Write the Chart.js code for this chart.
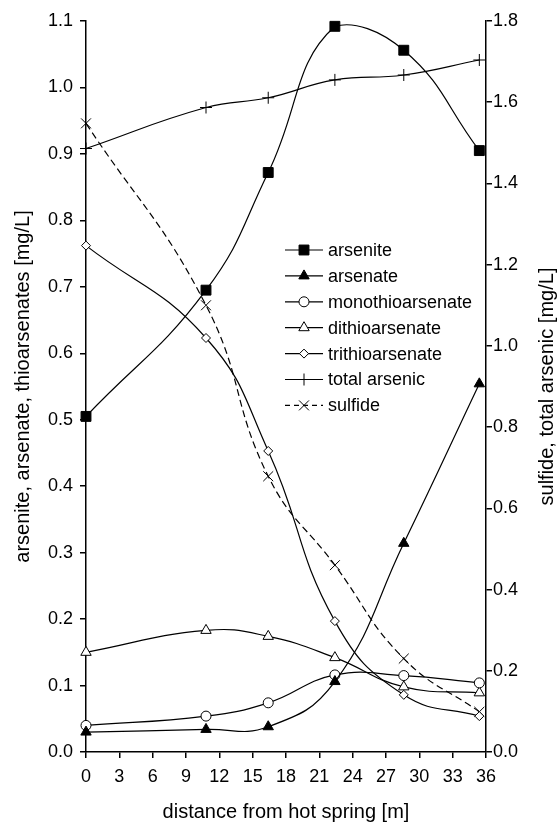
<!DOCTYPE html>
<html>
<head>
<meta charset="utf-8">
<script src="https://cdn.jsdelivr.net/npm/chart.js@4.4.1/dist/chart.umd.min.js"></script>
<style>
  html, body { margin: 0; padding: 0; background: #fff; }
  #wrap { width: 558px; height: 825px; }
</style>
</head>
<body>
<div id="wrap"><canvas id="speciesChart" width="558" height="825"></canvas></div>
<script>
// distance from hot spring [m]
const distance = [0, 10.8, 16.4, 22.4, 28.6, 35.4];

// left axis [mg/L]
const arsenite = [0.505, 0.695, 0.872, 1.092, 1.056, 0.905];
const arsenate = [0.030, 0.034, 0.038, 0.106, 0.314, 0.554];
const monothioarsenate = [0.040, 0.054, 0.074, 0.116, 0.115, 0.104];
const dithioarsenate = [0.150, 0.183, 0.174, 0.142, 0.098, 0.089];
const trithioarsenate = [0.762, 0.623, 0.453, 0.197, 0.086, 0.054];

// right axis [mg/L]
const totalArsenic = [1.486, 1.587, 1.611, 1.655, 1.667, 1.704];
const sulfide = [1.548, 1.100, 0.679, 0.460, 0.230, 0.099];

const xTicks = { min: 0, max: 36, step: 3 };
const leftTicks = { min: 0, max: 1.1, step: 0.1 };
const rightTicks = { min: 0, max: 1.8, step: 0.2 };

const rightTitle = 'sulfide, total arsenic [mg/L]';

const FONT = '"Liberation Sans", Arial, Helvetica, sans-serif';

function pts(values) {
    return values.map((v, i) => ({ x: distance[i], y: v }));
}

function series(label, values, style, radius, filled, axis, dash) {
    return {
        label: label,
        data: pts(values),
        yAxisID: axis,
        borderColor: '#000',
        borderWidth: 1.2,
        borderDash: dash || [],
        backgroundColor: filled ? '#000' : '#fff',
        pointStyle: style,
        pointRadius: radius,
        pointHoverRadius: radius,
        pointBorderColor: '#000',
        pointBorderWidth: 1,
        pointBackgroundColor: filled ? '#000' : '#fff',
        tension: 0.45,
        clip: false
    };
}

const datasets = [
    series('arsenite', arsenite, 'rect', 7, true, 'y'),
    series('arsenate', arsenate, 'triangle', 6, true, 'y'),
    series('monothioarsenate', monothioarsenate, 'circle', 5, false, 'y'),
    series('dithioarsenate', dithioarsenate, 'triangle', 6, false, 'y'),
    series('trithioarsenate', trithioarsenate, 'rectRot', 4.5, false, 'y'),
    series('total arsenic', totalArsenic, 'cross', 6, false, 'y2'),
    series('sulfide', sulfide, 'crossRot', 7, false, 'y2', [7, 4])
];

// legend inside the plot area + right axis title reading bottom-to-top
const insideLegend = {
    id: 'insideLegend',
    afterDatasetsDraw(chart) {
        const ctx = chart.ctx;
        const x0 = 285, x1 = 323, tx = 328, y0 = 250, dy = 25.9;
        ctx.save();
        chart.data.datasets.forEach((ds, i) => {
            const y = y0 + i * dy;
            ctx.strokeStyle = '#000';
            ctx.lineWidth = 1.2;
            ctx.setLineDash(ds.borderDash && ds.borderDash.length ? [5, 4] : []);
            ctx.beginPath();
            ctx.moveTo(x0, y);
            ctx.lineTo(x1, y);
            ctx.stroke();
            ctx.setLineDash([]);
            ctx.fillStyle = ds.pointBackgroundColor;
            ctx.strokeStyle = '#000';
            ctx.lineWidth = 1;
            Chart.helpers.drawPoint(ctx, {
                pointStyle: ds.pointStyle,
                radius: ds.pointRadius,
                rotation: 0,
                borderWidth: 1
            }, (x0 + x1) / 2, y);
            ctx.fillStyle = '#000';
            ctx.font = '18px ' + FONT;
            ctx.textBaseline = 'middle';
            ctx.textAlign = 'left';
            ctx.fillText(ds.label, tx, y + 1);
        });

        const area = chart.chartArea;
        ctx.translate(547, (area.top + area.bottom) / 2);
        ctx.rotate(-Math.PI / 2);
        ctx.font = '20px ' + FONT;
        ctx.textAlign = 'center';
        ctx.textBaseline = 'middle';
        ctx.fillStyle = '#000';
        ctx.fillText(rightTitle, 0, 0);
        ctx.restore();
    }
};

const axisLine = { display: true, color: '#000', width: 1.5 };
const tickGrid = { drawOnChartArea: false, color: '#000', lineWidth: 1.5, tickLength: 6 };

const config = {
    type: 'line',
    data: { datasets: datasets },
    options: {
        responsive: false,
        animation: false,
        events: [],
        layout: { padding: { top: 21, left: 0, right: 0, bottom: 0 } },
        plugins: {
            legend: { display: false },
            tooltip: { enabled: false }
        },
        scales: {
            x: {
                type: 'linear',
                position: 'bottom',
                min: xTicks.min,
                max: xTicks.max,
                border: axisLine,
                grid: tickGrid,
                ticks: {
                    stepSize: xTicks.step,
                    color: '#000',
                    padding: 8,
                    maxRotation: 0,
                    font: { family: FONT, size: 18 }
                },
                title: {
                    display: true,
                    text: 'distance from hot spring [m]',
                    color: '#000',
                    font: { family: FONT, size: 20 },
                    padding: { top: 0, bottom: 1 }
                },
                afterFit(scale) { scale.height = 73; }
            },
            y: {
                type: 'linear',
                position: 'left',
                min: leftTicks.min,
                max: leftTicks.max,
                border: axisLine,
                grid: tickGrid,
                ticks: {
                    stepSize: leftTicks.step,
                    color: '#000',
                    padding: 7,
                    font: { family: FONT, size: 18 },
                    callback: v => Number(v).toFixed(1)
                },
                title: {
                    display: true,
                    text: 'arsenite, arsenate, thioarsenates [mg/L]',
                    color: '#000',
                    font: { family: FONT, size: 20 },
                    padding: { top: 11, bottom: 0 }
                },
                afterFit(scale) { scale.width = 86; }
            },
            y2: {
                type: 'linear',
                position: 'right',
                min: rightTicks.min,
                max: rightTicks.max,
                border: axisLine,
                grid: tickGrid,
                ticks: {
                    stepSize: rightTicks.step,
                    color: '#000',
                    padding: 1,
                    font: { family: FONT, size: 18 },
                    callback: v => Number(v).toFixed(1)
                },
                afterFit(scale) { scale.width = 72; }
            }
        }
    },
    plugins: [insideLegend]
};

const speciesChart = new Chart(document.getElementById('speciesChart'), config);
</script>
</body>
</html>
